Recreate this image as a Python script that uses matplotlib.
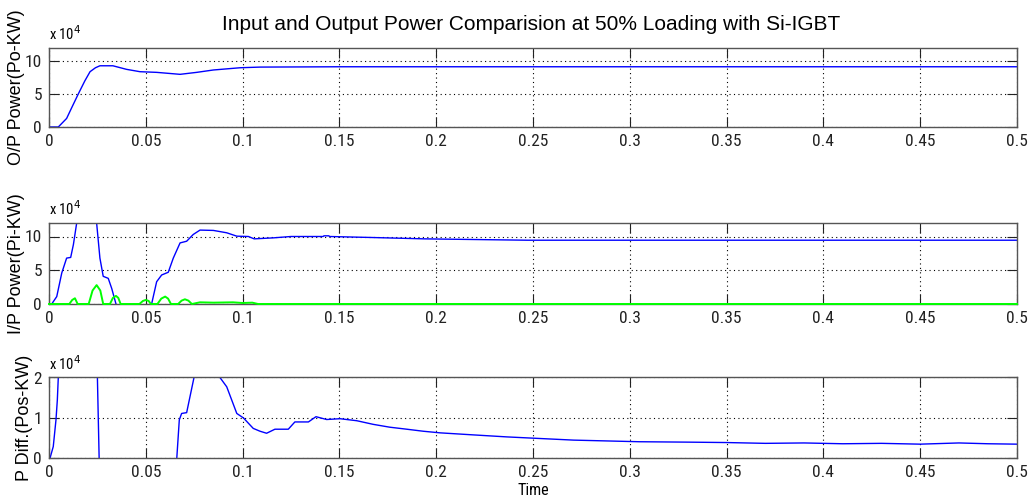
import matplotlib
matplotlib.use("Agg")
import matplotlib.pyplot as plt

plt.rcParams['font.family'] = ['Roboto Condensed', 'Liberation Sans', 'DejaVu Sans']

# Output power (x 10^4 W)
t_po = [0.0, 0.0048, 0.0091, 0.0120, 0.0151, 0.0185, 0.0212, 0.0240, 0.0263, 0.0330,
        0.0400, 0.0470, 0.0556, 0.0677, 0.0763, 0.0849, 0.0987, 0.1090, 0.1500, 0.2500,
        0.3500, 0.5000]
po = [0.0, 0.0, 1.3, 3.1, 5.0, 7.0, 8.4, 9.0, 9.3, 9.3,
      8.76, 8.4, 8.3, 8.0, 8.3, 8.66, 9.0, 9.1, 9.15, 9.15,
      9.15, 9.15]

# Input power (x 10^4 W)
t_pi = [0.0, 0.0014, 0.0040, 0.0066, 0.0091, 0.0112, 0.0126, 0.0143, 0.0160,
        0.0230, 0.0246, 0.0263, 0.0280, 0.0306, 0.0324, 0.0346, 0.0380,
        0.0500, 0.0530, 0.0556, 0.0582, 0.0616, 0.0642, 0.0677, 0.0711, 0.0745,
        0.0780, 0.0849, 0.0918, 0.0970, 0.1030, 0.1060, 0.1160, 0.1250, 0.1416,
        0.1420, 0.1445, 0.1450, 0.1670, 0.1940, 0.2470, 0.3040, 0.5000]
pi_ = [0.0, 0.0, 1.1, 4.6, 6.8, 6.9, 8.8, 12.0, 13.5,
       13.5, 12.0, 6.8, 4.1, 3.8, 2.3, 0.0, -2.0,
       -2.0, 0.0, 3.3, 4.3, 4.7, 6.8, 9.05, 9.3, 10.3,
       10.95, 10.9, 10.55, 10.05, 10.0, 9.65, 9.8, 10.0, 10.0,
       10.1, 10.1, 10.0, 9.85, 9.65, 9.45, 9.45, 9.45]

# Ripple component (x 10^4 W)
t_rip = [0.0, 0.0105, 0.0120, 0.0134, 0.0148, 0.0205, 0.0225, 0.0246, 0.0265, 0.0280,
         0.0315, 0.0330, 0.0346, 0.0358, 0.0370, 0.0467, 0.0485, 0.0500, 0.0515, 0.0526,
         0.0560, 0.0580, 0.0600, 0.0615, 0.0630, 0.0667, 0.0685, 0.0702, 0.0720, 0.0738,
         0.0780, 0.0850, 0.0950, 0.1000, 0.1050, 0.1080, 0.5000]
rip = [0.0, 0.0, 0.6, 0.85, 0.0, 0.0, 2.0, 2.8, 2.0, 0.0,
       0.0, 0.9, 1.2, 0.9, 0.0, 0.0, 0.45, 0.6, 0.45, 0.0,
       0.0, 0.8, 1.1, 0.8, 0.0, 0.0, 0.5, 0.7, 0.5, 0.0,
       0.25, 0.2, 0.25, 0.15, 0.2, 0.0, 0.0]

# Power difference (x 10^4 W)
t_pd = [0.0, 0.0005, 0.0022, 0.0036, 0.0043, 0.0048, 0.0060,
        0.0240, 0.0250, 0.0259, 0.0270,
        0.0650, 0.0660, 0.0673, 0.0685, 0.0711, 0.0728, 0.0749, 0.0770,
        0.0860, 0.0883, 0.0918, 0.0944, 0.0970, 0.1004, 0.1012, 0.1055, 0.1090,
        0.1124, 0.1167, 0.1236, 0.1270, 0.1340, 0.1379, 0.1434, 0.1503, 0.1590,
        0.1675, 0.1760, 0.1848, 0.1933, 0.2020, 0.2190, 0.2364, 0.2536, 0.2710,
        0.2880, 0.3050, 0.3300, 0.3500, 0.3700, 0.3900, 0.4100, 0.4300, 0.4500,
        0.4700, 0.4850, 0.5000]
pd_ = [0.0, 0.0, 0.29, 0.95, 1.44, 2.0, 2.6,
       2.6, 2.0, 0.0, -0.3,
       -0.3, 0.0, 0.95, 1.11, 1.13, 1.52, 2.0, 2.3,
       2.3, 2.0, 1.77, 1.44, 1.11, 1.0, 0.96, 0.74, 0.67,
       0.62, 0.72, 0.72, 0.9, 0.9, 1.03, 0.96, 0.98, 0.93,
       0.84, 0.77, 0.72, 0.67, 0.63, 0.58, 0.53, 0.49, 0.45,
       0.43, 0.41, 0.40, 0.39, 0.37, 0.38, 0.36, 0.37, 0.35,
       0.38, 0.36, 0.35]

x_ticks = [0, 0.05, 0.1, 0.15, 0.2, 0.25, 0.3, 0.35, 0.4, 0.45, 0.5]
x_ticklabels = ['0', '0.05', '0.1', '0.15', '0.2', '0.25', '0.3', '0.35', '0.4', '0.45', '0.5']

title = 'Input and Output Power Comparision at 50% Loading with Si-IGBT'
ylabels = ['O/P Power(Po-KW)', 'I/P Power(Pi-KW)', 'P Diff.(Pos-KW)']
ylims = [(0, 12), (0, 12), (0, 2)]
yticks = [[0, 5, 10], [0, 5, 10], [0, 1, 2]]
ylabel_x = [-0.025, -0.025, -0.017]

BLUE = '#0000ff'
GREEN = '#00ff00'
REGULAR = ['Liberation Sans', 'DejaVu Sans']

fig = plt.figure(figsize=(10.29, 5.01), dpi=100)
W, H = 1029, 501
left, right = 49, 1017
rows = [(48, 127), (223, 304), (377.5, 458.3)]
axes = []
for top, bot in rows:
    ax = fig.add_axes([left / W, 1 - bot / H, (right - left) / W, (bot - top) / H])
    axes.append(ax)

axes[0].plot(t_po, po, color=BLUE, lw=1.0)
axes[1].plot(t_pi, pi_, color=BLUE, lw=1.0)
axes[1].plot(t_rip, rip, color=GREEN, lw=1.4, clip_on=False, zorder=3)
axes[2].plot(t_pd, pd_, color=BLUE, lw=1.0)

for i, ax in enumerate(axes):
    ax.set_xlim(0, 0.5)
    ax.set_ylim(*ylims[i])
    ax.set_xticks(x_ticks)
    ax.set_xticklabels(x_ticklabels)
    ax.set_yticks(yticks[i])
    ax.grid(True, color='black', linestyle=(0, (1, 3)), linewidth=0.8)
    ax.tick_params(direction='in', length=7, width=0.8, top=True, right=True,
                   labelsize=12.5, pad=5, colors='#222222')
    for s in ax.spines.values():
        s.set_color('#555555')
        s.set_linewidth(1.0)
    ax.set_ylabel(ylabels[i], fontsize=13, family=REGULAR)
    ax.yaxis.set_label_coords(ylabel_x[i], 0.5)
    ax.text(0.0, 1.06, r'x 10$^4$', transform=ax.transAxes, fontsize=10.5,
            ha='left', va='bottom')

axes[2].set_xlabel('Time', fontsize=11.5, labelpad=2)

fig.text(0.516, 1 - 25 / H, title, ha='center', va='center', fontsize=15,
         family=REGULAR)

fig.savefig('out.png', dpi=100)
